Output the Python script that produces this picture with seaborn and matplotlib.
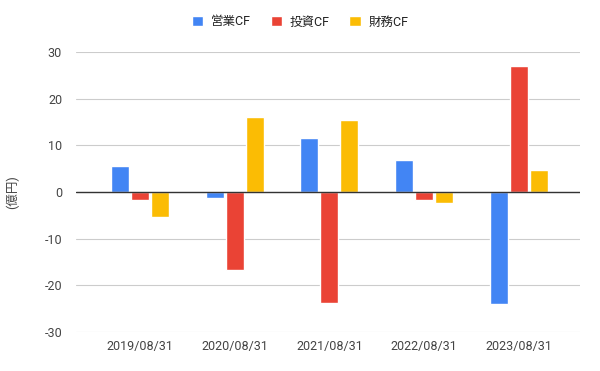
import matplotlib
matplotlib.use("Agg")
import matplotlib.pyplot as plt
import seaborn as sns
import pandas as pd

dates = ["2019/08/31", "2020/08/31", "2021/08/31", "2022/08/31", "2023/08/31"]
series = ["営業CF", "投資CF", "財務CF"]
eigyo = [5.6, -1.35, 11.5, 6.9, -24.0]
toushi = [-1.8, -16.7, -23.7, -1.8, 26.9]
zaimu = [-5.4, 16.0, 15.4, -2.3, 4.8]
yticks = [-30, -20, -10, 0, 10, 20, 30]
colors = ["#4285F4", "#EA4335", "#FBBC04"]

rows = []
for name, vals in zip(series, [eigyo, toushi, zaimu]):
    for d, v in zip(dates, vals):
        rows.append({"date": d, "series": name, "value": v})
df = pd.DataFrame(rows)

sns.set_theme(style="white")
plt.rcParams["font.family"] = ["Roboto", "Noto Sans CJK JP", "DejaVu Sans"]

fig = plt.figure(figsize=(6.0, 3.71), dpi=100)
ax = fig.add_axes([76/600, 1-332/371, (580-76)/600, (332-52)/371])

sns.barplot(data=df, x="date", y="value", hue="series", order=dates,
            hue_order=series, palette=colors, width=0.635, gap=0.1,
            saturation=1, ax=ax, legend=True, errorbar=None)

ax.set_ylim(-30, 30)
ax.set_xlim(-0.68, 4.65)
ax.set_yticks(yticks)
ax.set_yticklabels([str(t) for t in yticks])
ax.grid(axis="y", color="#cccccc", linewidth=0.8)
ax.set_axisbelow(True)
ax.axhline(0, color="#333333", linewidth=1.0, zorder=3)
for s in ax.spines.values():
    s.set_visible(False)
ax.tick_params(axis="both", length=0, labelsize=9, colors="#444444")
ax.tick_params(axis="y", pad=10)
ax.tick_params(axis="x", pad=6)
ax.set_xlabel("")
ax.set_ylabel("(億円)", fontsize=9, color="#444444", labelpad=18)

handles, labels = ax.get_legend_handles_labels()
ax.legend(handles, labels, loc="center", bbox_to_anchor=(0.5, 1 - 22/371),
          bbox_transform=fig.transFigure, ncol=3, frameon=False,
          fontsize=9, handlelength=0.9, handleheight=0.9, handletextpad=0.6,
          columnspacing=1.6, labelcolor="#222222")

fig.savefig("out.png", dpi=100)
